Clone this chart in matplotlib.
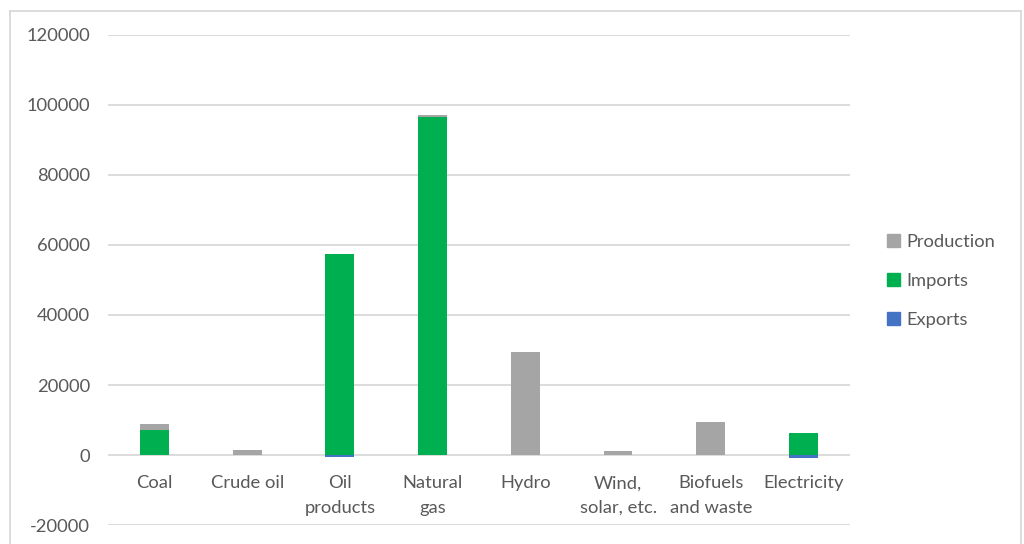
import matplotlib
matplotlib.use("Agg")
import matplotlib.pyplot as plt
from matplotlib.lines import Line2D
from matplotlib.patches import Patch
import numpy as np

categories = ["Coal", "Crude oil", "Oil\nproducts", "Natural\ngas", "Hydro",
              "Wind,\nsolar, etc.", "Biofuels\nand waste", "Electricity"]
production = [1700, 1400, 0, 400, 29400, 1100, 9300, 0]
imports = [7200, 0, 57400, 96700, 0, 0, 0, 6200]
exports = [0, 0, -600, 0, 0, 0, 0, -800]
yticks = [-20000, 0, 20000, 40000, 60000, 80000, 100000, 120000]

C_PROD = "#A5A5A5"
C_IMP = "#00B050"
C_EXP = "#4472C4"
TXT = "#595959"
GRID = "#D9D9D9"
FS = 13.2

plt.rcParams["font.family"] = ["Lato", "DejaVu Sans"]

fig = plt.figure(figsize=(10.24, 5.44), dpi=100)
ax = fig.add_axes([0.1055, 0.0349, 0.7245, 0.9008])

x = np.arange(len(categories))
w = 0.31
ax.bar(x, imports, w, color=C_IMP, zorder=3)
ax.bar(x, production, w, bottom=imports, color=C_PROD, zorder=3)
ax.bar(x, exports, w, color=C_EXP, zorder=3)

ax.set_xlim(-0.5, len(categories) - 0.5)
ax.set_ylim(-20000, 120000)
ax.set_yticks(yticks)
ax.set_yticklabels([str(v) for v in yticks])
ax.yaxis.grid(True, color=GRID, linewidth=1.3, zorder=0)
ax.set_axisbelow(True)
for s in ax.spines.values():
    s.set_visible(False)
ax.tick_params(axis="y", length=0, pad=13, labelsize=FS, labelcolor=TXT)
ax.tick_params(axis="x", length=0, labelbottom=False)

# category labels placed below the zero line
for xi, lab in zip(x, categories):
    ax.text(xi, -5800, lab, ha="center", va="top", fontsize=FS,
            color=TXT, linespacing=1.65)

handles = [Patch(color=C_PROD), Patch(color=C_IMP), Patch(color=C_EXP)]
fig.legend(handles, ["Production", "Imports", "Exports"],
           loc="center left", bbox_to_anchor=(0.850, 0.484),
           frameon=False, fontsize=FS, labelcolor=TXT,
           handlelength=0.7, handleheight=0.7, handletextpad=0.35,
           labelspacing=1.25)

# chart frame
fx0, fx1, fy1 = 10 / 1024, 1021 / 1024, 1 - 11 / 544
for xs, ys in [([fx0, fx0], [0, fy1]), ([fx0, fx1], [fy1, fy1]), ([fx1, fx1], [fy1, 0])]:
    fig.add_artist(Line2D(xs, ys, transform=fig.transFigure, color=GRID, linewidth=1.3))

fig.savefig("out.png", dpi=100)
